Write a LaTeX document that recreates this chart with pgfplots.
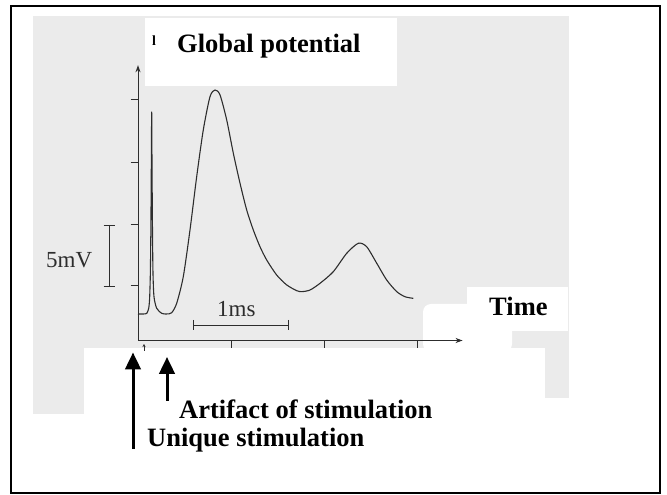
\documentclass[border=0pt]{standalone}
\usepackage{fontspec}
\setmainfont{Liberation Serif}
\usepackage{pgfplots}
\pgfplotsset{compat=1.18}
\usetikzlibrary{arrows.meta}
\definecolor{bggrey}{RGB}{235,235,235}
\definecolor{ink}{RGB}{45,45,45}
\tikzset{px/.style={x=1pt,y=-1pt,yshift=495pt}}
\begin{document}
\begin{tikzpicture}
\useasboundingbox (0pt,0pt) rectangle (667pt,495pt);
\begin{scope}[px]
\fill[white] (0,0) rectangle (667,495);
\fill[bggrey] (33,16) rectangle (569,414);
\fill[white] (145,18) rectangle (397,86);
\fill[white] (84,348) rectangle (545,416);
\fill[white] (545,398) rectangle (570,416);
\fill[white] (467,287) rectangle (568,331);
\fill[white,rounded corners=8pt] (423,304) rectangle (512,352);
\end{scope}
\begin{axis}[at={(138pt,154.5pt)}, anchor=south west, scale only axis,
  width=324.57pt, height=275.28pt,
  xmin=0, xmax=3.49, ymin=0, ymax=22.2,
  axis lines=left,
  axis line style={ink, line width=0.9pt, -{Stealth[length=7pt,width=5pt]}},
  xtick={1,2,3}, ytick={4.4,9.37,14.37,19.4},
  xticklabels={}, yticklabels={},
  tick align=outside, major tick length=7.5pt,
  tick style={ink, line width=0.9pt},
  clip=false]
\addplot[ink, line width=1.1pt, smooth, tension=0.45] coordinates {
(0,2.14) (0.06,2.14) (0.094,2.19) (0.115,2.6) (0.125,3.4) (0.133,5.5)
(0.139,9.5) (0.144,15) (0.147,18.45) (0.150,15) (0.155,9.5) (0.161,5.5)
(0.172,3.53) (0.201,2.60) (0.255,2.19) (0.309,2.14) (0.362,2.24) (0.416,3.00)
(0.487,5.15) (0.559,8.91) (0.631,13.21) (0.702,16.98) (0.774,19.66) (0.828,20.20)
(0.882,19.80) (0.954,17.78) (1.025,15.10) (1.097,12.68) (1.169,10.52) (1.240,8.91)
(1.312,7.56) (1.384,6.49) (1.491,5.28) (1.599,4.48) (1.706,4.02) (1.760,3.94)
(1.849,4.07) (1.957,4.61) (2.100,5.55) (2.244,7.03) (2.369,7.84) (2.459,7.56)
(2.567,6.23) (2.674,4.88) (2.782,3.94) (2.871,3.53) (2.960,3.40)
};
\end{axis}
\begin{scope}[px]
% 5mV scale bar
\draw[ink, line width=0.9pt] (109.3,225)--(109.3,286) (103.5,225)--(115,225) (103.5,286)--(115,286);
\node[anchor=base west, inner sep=0, font=\fontsize{23}{23}\selectfont, text=ink] at (46,268) {5mV};
% 1ms scale bar
\draw[ink, line width=0.9pt] (193.3,325)--(288.3,325) (193.3,320)--(193.3,330) (288.3,320)--(288.3,330);
\node[anchor=base west, inner sep=0, font=\fontsize{23}{23}\selectfont, text=ink] at (217,317) {1ms};
% labels
\node[anchor=base west, inner sep=0, font=\fontsize{26.5}{26.5}\selectfont\bfseries] at (177,52.7) {Global potential};
\node[anchor=base west, inner sep=0, font=\fontsize{14}{14}\selectfont\bfseries] at (152,45.5) {l};
\node[anchor=base west, inner sep=0, font=\fontsize{26.5}{26.5}\selectfont\bfseries] at (489,315.5) {Time};
\node[anchor=base west, inner sep=0, font=\fontsize{26.5}{26.5}\selectfont\bfseries] at (179,418.5) {Artifact of stimulation};
\node[anchor=base west, inner sep=0, font=\fontsize{26.5}{26.5}\selectfont\bfseries] at (147,446.7) {Unique stimulation};
% arrows
\draw[line width=3pt, -{Triangle[length=17pt,width=15.5pt]}] (133,449) -- (133,352.5);
\draw[line width=3pt, -{Triangle[length=17pt,width=15.5pt]}] (167,401) -- (167,357);
\draw[ink, line width=0.6pt, -{Stealth[length=3pt,width=3pt]}] (144,351)--(144,344);
% frame
\draw[black, line width=2pt] (11,6) rectangle (660,493);
\end{scope}
\end{tikzpicture}
\end{document}
